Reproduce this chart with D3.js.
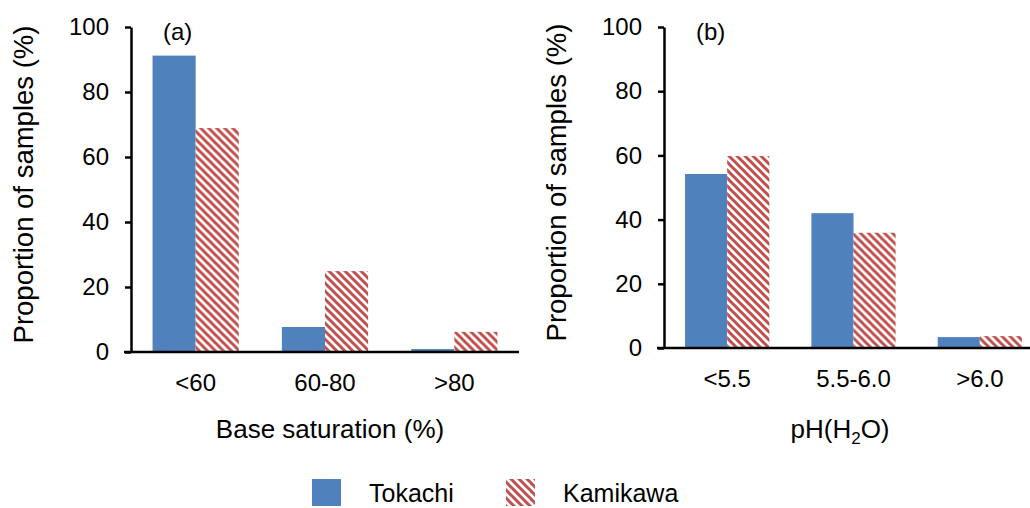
<!DOCTYPE html>
<html>
<head>
<meta charset="utf-8">
<script src="https://cdn.jsdelivr.net/npm/d3@7"></script>
<style>
  html, body { margin: 0; padding: 0; background: #fff; }
  svg { display: block; font-family: "Liberation Sans", Arial, sans-serif; }
</style>
</head>
<body>
<svg id="chart" width="1030" height="508"></svg>
<script>
// ---- data ----
const seriesNames = ["Tokachi", "Kamikawa"];
const categoriesA = ["<60", "60-80", ">80"];
const tokachiA = [91.2, 7.7, 0.9];
const kamikawaA = [68.9, 24.9, 6.2];
const categoriesB = ["<5.5", "5.5-6.0", ">6.0"];
const tokachiB = [54.2, 42.0, 3.4];
const kamikawaB = [59.8, 35.9, 3.7];
const yTicks = [0, 20, 40, 60, 80, 100];
const panelLabels = ["(a)", "(b)"];
const xTitleA = "Base saturation (%)";
const yTitle = "Proportion of samples (%)";

const blue = "#4F81BD";
const red = "#C0504D";

const svg = d3.select("#chart");

// stripe pattern (wide downward diagonal)
const defs = svg.append("defs");
const pat = defs.append("pattern")
  .attr("id", "stripes")
  .attr("patternUnits", "userSpaceOnUse")
  .attr("width", 8).attr("height", 8);
pat.append("rect").attr("width", 8).attr("height", 8).attr("fill", "#fff");
pat.append("path")
  .attr("d", "M-2,-2 L10,10 M-2,6 L2,10 M6,-2 L10,2")
  .attr("stroke", red).attr("stroke-width", 3.0).attr("fill", "none");

function panel(cfg) {
  const g = svg.append("g");
  const y = d3.scaleLinear().domain([0, 100]).range([cfg.y0, cfg.y1]);
  const x0 = d3.scaleBand().domain(cfg.categories).range([cfg.xl, cfg.xr])
    .paddingInner(1/3).paddingOuter(1/6);
  const x1 = d3.scaleBand().domain(seriesNames).range([0, x0.bandwidth()]);

  const data = cfg.categories.map((c, i) => ({
    cat: c, vals: [ {s: "Tokachi", v: cfg.tok[i]}, {s: "Kamikawa", v: cfg.kam[i]} ]
  }));

  const groups = g.selectAll("g.cat").data(data).enter().append("g")
    .attr("transform", d => `translate(${x0(d.cat)},0)`);
  groups.selectAll("rect").data(d => d.vals).enter().append("rect")
    .attr("x", d => x1(d.s))
    .attr("width", x1.bandwidth())
    .attr("y", d => y(d.v))
    .attr("height", d => y(0) - y(d.v))
    .attr("fill", d => d.s === "Tokachi" ? blue : "url(#stripes)");

  // y axis
  const ya = g.append("g").attr("transform", `translate(${cfg.xl},0)`)
    .call(d3.axisLeft(y).tickValues(yTicks).tickSize(6).tickSizeOuter(0).tickPadding(16));
  ya.select(".domain").attr("stroke", "#000").attr("stroke-width", 2.5);
  ya.selectAll(".tick line").attr("stroke", "#000").attr("stroke-width", 2.5);
  ya.selectAll(".tick text").attr("font-size", 24).attr("fill", "#000")
    .attr("font-family", "Liberation Sans, Arial, sans-serif");

  // x axis
  const xa = g.append("g").attr("transform", `translate(0,${cfg.y0})`)
    .call(d3.axisBottom(x0).tickSize(0).tickSizeOuter(0).tickPadding(22));
  xa.select(".domain").attr("stroke", "#000").attr("stroke-width", 2.5)
    .attr("d", `M${cfg.xl - 7},0H${cfg.xr}`);
  xa.selectAll(".tick text").attr("font-size", 24).attr("fill", "#000")
    .attr("font-family", "Liberation Sans, Arial, sans-serif");

  // panel label
  g.append("text").attr("x", cfg.xl + 32).attr("y", 40)
    .attr("font-size", 24).text(cfg.label);

  // y title
  g.append("text")
    .attr("transform", `translate(${cfg.xl - 98},${(cfg.y0 + cfg.y1) / 2 - 5}) rotate(-90)`)
    .attr("text-anchor", "middle").attr("font-size", 27.5).text(yTitle);

  // x title
  const xt = g.append("text").attr("x", cfg.titleX).attr("y", 438)
    .attr("text-anchor", "middle").attr("font-size", 26);
  cfg.title(xt);
}

panel({
  categories: categoriesA, tok: tokachiA, kam: kamikawaA,
  xl: 131, xr: 519, y0: 352, y1: 27, label: panelLabels[0], titleX: 330,
  title: t => t.text(xTitleA)
});
panel({
  categories: categoriesB, tok: tokachiB, kam: kamikawaB,
  xl: 664, xr: 1043, y0: 348, y1: 27, label: panelLabels[1], titleX: 840,
  title: t => {
    t.append("tspan").text("pH(H");
    t.append("tspan").attr("font-size", 17).attr("dy", 6).text("2");
    t.append("tspan").attr("dy", -6).text("O)");
  }
});

// legend
const leg = svg.append("g");
const legX = [312, 506];
seriesNames.forEach((s, i) => {
  leg.append("rect").attr("x", legX[i]).attr("y", 479).attr("width", 29).attr("height", 27)
    .attr("fill", i === 0 ? blue : "url(#stripes)");
  leg.append("text").attr("x", legX[i] + 57).attr("y", 502)
    .attr("font-size", 25).text(s);
});
</script>
</body>
</html>
